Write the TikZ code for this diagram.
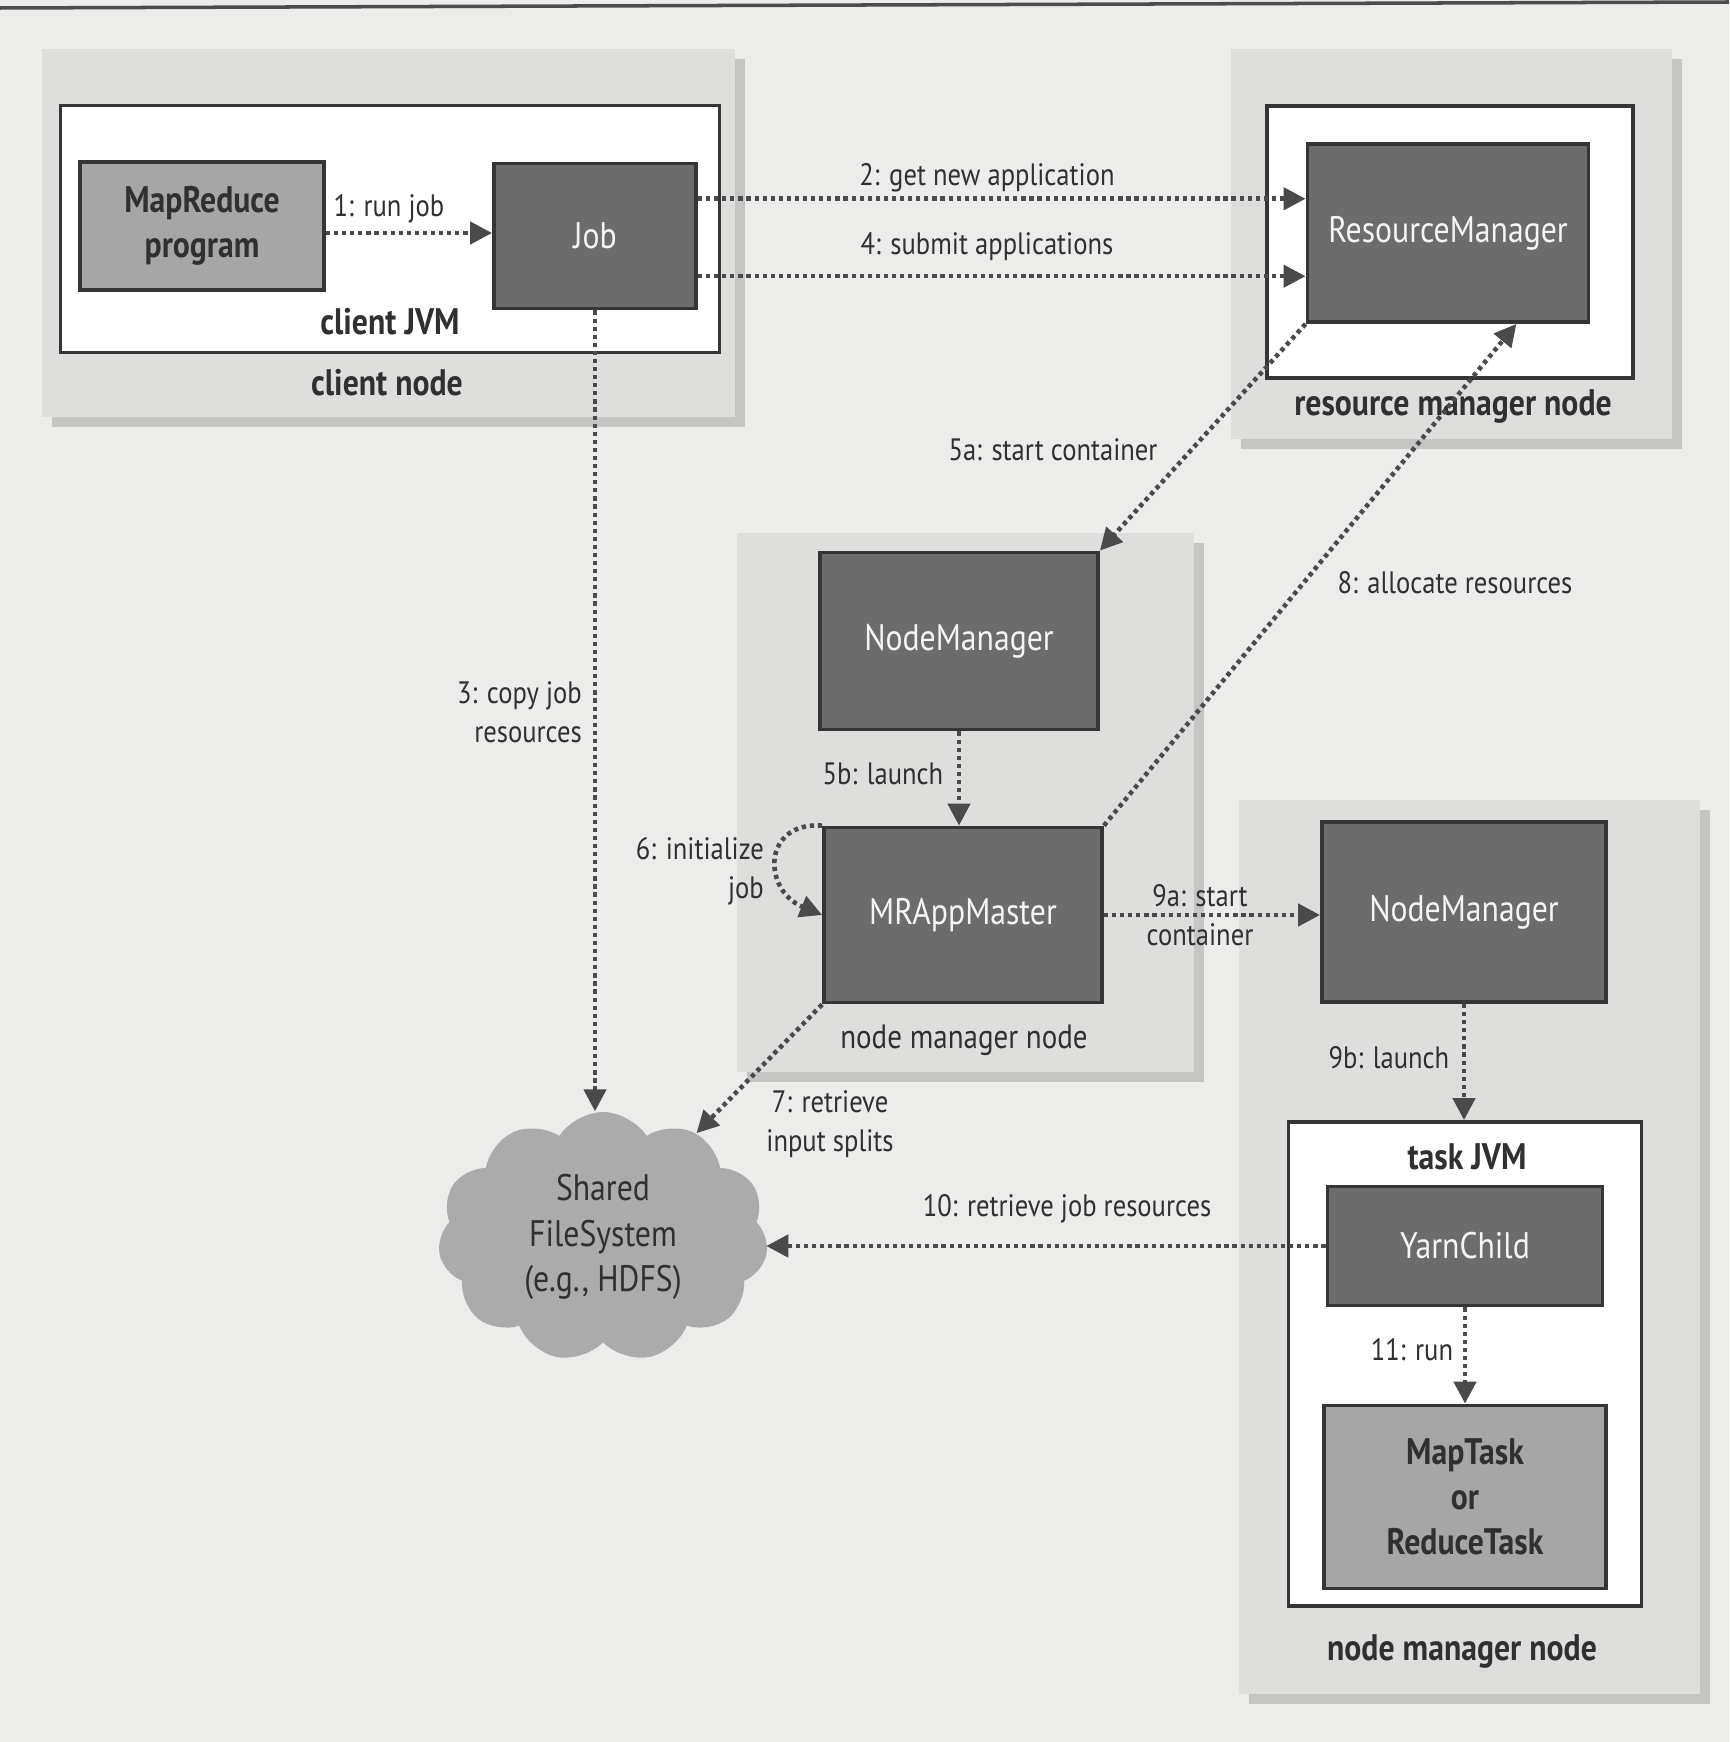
\documentclass[tikz,border=0pt]{standalone}
\usepackage{fontspec}
\setmainfont{PT Sans}[FakeStretch=0.86]
\usetikzlibrary{arrows.meta,shadows,shapes.symbols,calc}
\definecolor{pagebg}{HTML}{ECECEA}
\definecolor{nodefill}{HTML}{DEDEDD}
\definecolor{shadowc}{HTML}{BCBCBA}
\definecolor{boxline}{HTML}{353535}
\definecolor{darkfill}{HTML}{6C6C6C}
\definecolor{lightfill}{HTML}{A6A6A6}
\definecolor{cloudc}{HTML}{ABABAB}
\definecolor{textc}{HTML}{303030}
\definecolor{linec}{HTML}{4A4A4A}
\tikzset{
  nodebg/.style={fill=nodefill, draw=none, inner sep=0pt,
    drop shadow={shadow xshift=1.0mm, shadow yshift=-1.0mm, fill=shadowc, opacity=.8}},
  jvm/.style={fill=white, draw=boxline, line width=1.1pt, inner sep=0pt},
  darkbox/.style={fill=darkfill, draw=boxline, line width=1.1pt, inner sep=0pt,
    text=white!92!gray, font=\fontsize{10.5}{12}\selectfont},
  lightbox/.style={fill=lightfill, draw=boxline, line width=1.1pt, inner sep=0pt,
    text=textc, align=center, font=\bfseries\fontsize{10.5}{12.8}\selectfont},
  lbl/.style={text=textc, inner sep=1pt, font=\fontsize{8.8}{11}\selectfont},
  tit/.style={text=textc, inner sep=1pt, font=\bfseries\fontsize{10.5}{12}\selectfont},
  arr/.style={draw=linec, line width=1.3pt, dash pattern=on 1.2pt off 1.1pt,
    -{Triangle[length=2.2mm,width=2.2mm]}}
}
\begin{document}
\begin{tikzpicture}[x=0.1mm,y=-0.1mm]
\useasboundingbox (0,0) rectangle (1729,1742);
\fill[pagebg] (0,0) rectangle (1729,1742);
\draw[line width=1pt, gray!60!black] (0,8) -- (1729,2);

% machine (node) backgrounds
\node[nodebg, minimum width=69.3mm, minimum height=36.7mm] (cnode) at (388,233) {};
\node[nodebg, minimum width=44.1mm, minimum height=38.9mm] (rmnode) at (1451,244) {};
\node[nodebg, minimum width=45.7mm, minimum height=53.9mm] (nmnodeA) at (965,802) {};
\node[nodebg, minimum width=46.1mm, minimum height=89.4mm] (nmnodeB) at (1469,1247) {};

% JVM boxes
\node[jvm, minimum width=65.9mm, minimum height=24.7mm] (cjvm) at (390,229) {};
\node[jvm, minimum width=36.6mm, minimum height=27.2mm] (rmwhite) at (1450,242) {};
\node[jvm, minimum width=35.3mm, minimum height=48.4mm] (tjvm) at (1465,1364) {};

% process boxes
\node[lightbox, minimum width=24.4mm, minimum height=12.8mm] (mrp) at (202,226) {MapReduce\\program};
\node[darkbox, minimum width=20.2mm, minimum height=14.5mm] (job) at (595,236) {Job};
\node[darkbox, minimum width=28.1mm, minimum height=17.8mm] (rm) at (1448,233) {ResourceManager};
\node[darkbox, minimum width=27.8mm, minimum height=17.7mm] (nmA) at (959,641) {NodeManager};
\node[darkbox, minimum width=27.8mm, minimum height=17.5mm] (mram) at (963,915) {MRAppMaster};
\node[darkbox, minimum width=28.4mm, minimum height=18.0mm] (nmB) at (1464,912) {NodeManager};
\node[darkbox, minimum width=27.5mm, minimum height=11.9mm] (yc) at (1465,1246) {YarnChild};
\node[lightbox, minimum width=28.2mm, minimum height=18.3mm] (mt) at (1465,1497) {MapTask\\or\\ReduceTask};

% shared file system
\node[cloud, cloud puffs=11, cloud puff arc=115, aspect=1.3, fill=cloudc, draw=none,
  minimum width=33mm, minimum height=25mm, inner sep=0pt, align=center, text=textc,
  font=\fontsize{10.5}{13}\selectfont] (fs) at (603,1237) {Shared\\FileSystem\\(e.g., HDFS)};

% titles
\node[tit] (tcjvm) at (390,322) {client JVM};
\node[tit] (tcnode) at (387,383) {client node};
\node[tit] (trm) at (1453,406) {resource manager node};
\node[lbl, font=\fontsize{9.6}{12}\selectfont] (tnmA) at (964,1040) {node manager node};
\node[tit] (ttjvm) at (1467,1157) {task JVM};
\node[tit] (tnmB) at (1462,1651) {node manager node};

% connector helper coordinates
\coordinate (j2) at ($(job.north east)!0.25!(job.south east)$);
\coordinate (j4) at ($(job.north east)!0.77!(job.south east)$);
\coordinate (rm8) at ($(rm.south west)!0.74!(rm.south east)$);

% connectors
\draw[arr] (mrp.east |- 0,233) -- (job.west |- 0,233);
\draw[arr] (j2) -- (j2 -| rm.west);
\draw[arr] (j4) -- (j4 -| rm.west);
\draw[arr] (job.south) -- (job.south |- fs.north);
\draw[arr] (rm.south west) -- (nmA.north east);
\draw[arr] (nmA.south) -- (nmA.south |- mram.north);
\draw[arr] (mram.north west) .. controls +(-60,-4) and +(-60,-25) .. (mram.west);
\draw[arr] (mram.north east) -- (rm8);
\draw[arr] (mram.south west) -- (fs.48);
\draw[arr] (mram.east) -- (mram.east -| nmB.west);
\draw[arr] (nmB.south) -- (nmB.south |- tjvm.north);
\draw[arr] (yc.west) -- (yc.west -| fs.east);
\draw[arr] (yc.south) -- (yc.south |- mt.north);

% connector labels
\node[lbl] (l1) at (389,209) {1: run job};
\node[lbl] (l2) at (987,178) {2: get new application};
\node[lbl] (l4) at (987,247) {4: submit applications};
\node[lbl, align=right, anchor=east] (l3) at (586,712) {3: copy job\\resources};
\node[lbl] (l5a) at (1053,450) {5a: start container};
\node[lbl] (l8) at (1455,583) {8: allocate resources};
\node[lbl] (l5b) at (883,774) {5b: launch};
\node[lbl, align=right, anchor=east] (l6) at (768,871) {6: initialize\\job};
\node[lbl, align=center] (l9a) at (1200,915) {9a: start\\container};
\node[lbl] (l9b) at (1389,1058) {9b: launch};
\node[lbl, align=center] (l7) at (830,1124) {7: retrieve\\input splits};
\node[lbl] (l10) at (1067,1209) {10: retrieve job resources};
\node[lbl] (l11) at (1412,1350) {11: run};
\end{tikzpicture}
\end{document}
